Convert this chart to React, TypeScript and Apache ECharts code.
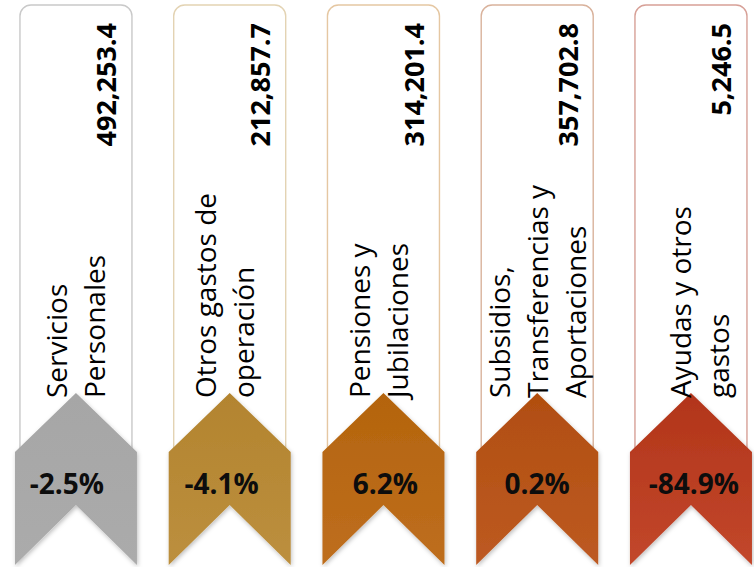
import React, { useEffect, useRef } from "react";
import * as echarts from "echarts";

const categories = [
  "Servicios\nPersonales",
  "Otros gastos de\noperación",
  "Pensiones y\nJubilaciones",
  "Subsidios,\nTransferencias y\nAportaciones",
  "Ayudas y otros\ngastos",
];
const amounts = [492253.4, 212857.7, 314201.4, 357702.8, 5246.5];
const changes = [-2.5, -4.1, 6.2, 0.2, -84.9];

const chevronTop = ["#A6A6A6", "#B3842F", "#B4640D", "#B14E10", "#B2351A"];
const chevronBottom = ["#ABABAB", "#BC8F3E", "#BE6E1E", "#BD5A22", "#C2472B"];
const panelBorders = ["#C9C9C9", "#E3D3B3", "#E5C7A2", "#D9B29C", "#D7A097"];
const labelShift = [-1, -6, -5, 0, 8];
const pctShift = [-9, -8, 2, 0, 3];

const FONT = '"Open Sans", "Noto Sans", sans-serif';

export default function App() {
  const ref = useRef<HTMLDivElement>(null);

  useEffect(() => {
    if (!ref.current) return;
    const chart = echarts.init(ref.current, undefined, { renderer: "svg" });

    const data = categories.map((c, i) => [i, amounts[i], changes[i]]);

    const renderItem = (params: any, api: any) => {
      const i = api.value(0);
      const amount = api.value(1);
      const change = api.value(2);
      const cx = api.coord([i, 0])[0];
      const Y = (v: number) => api.coord([i, v])[1];
      const halfPanel = 56;
      const halfChev = 61;
      const amountText = Number(amount).toLocaleString("en-US", {
        minimumFractionDigits: 1,
        maximumFractionDigits: 1,
      });
      const changeText = Number(change).toFixed(1) + "%";
      return {
        type: "group",
        children: [
          {
            type: "rect",
            shape: {
              x: cx - halfPanel,
              y: Y(5),
              width: halfPanel * 2,
              height: Y(470) - Y(5),
              r: [11, 11, 0, 0],
            },
            style: { fill: "#ffffff", stroke: panelBorders[i], lineWidth: 1.4 },
          },
          {
            type: "polygon",
            shape: {
              points: [
                [cx - halfChev, Y(452)],
                [cx, Y(393)],
                [cx + halfChev, Y(452)],
                [cx + halfChev, Y(565)],
                [cx, Y(505)],
                [cx - halfChev, Y(565)],
              ],
            },
            style: {
              fill: new echarts.graphic.LinearGradient(0, 0, 0, 1, [
                { offset: 0, color: chevronTop[i] },
                { offset: 1, color: chevronBottom[i] },
              ]),
              shadowBlur: 4,
              shadowColor: "rgba(0,0,0,0.25)",
              shadowOffsetX: 1,
              shadowOffsetY: 2,
            },
          },
          {
            type: "text",
            x: cx + 30,
            y: Y(23),
            rotation: Math.PI / 2,
            style: {
              text: amountText,
              font: `bold 27px ${FONT}`,
              fill: "#000000",
              align: "right",
              verticalAlign: "middle",
            },
          },
          {
            type: "text",
            x: cx + labelShift[i],
            y: Y(398),
            rotation: Math.PI / 2,
            style: {
              text: categories[i],
              font: `28px ${FONT}`,
              lineHeight: 38,
              fill: "#000000",
              align: "left",
              verticalAlign: "middle",
            },
          },
          {
            type: "text",
            x: cx + pctShift[i],
            y: Y(483),
            style: {
              text: changeText,
              font: `bold 28px ${FONT}`,
              fill: "#0d0d0d",
              align: "center",
              verticalAlign: "middle",
            },
          },
        ],
      };
    };

    chart.setOption({
      animation: false,
      grid: { left: 0, right: 0, top: 0, bottom: 0 },
      xAxis: { type: "value", min: -0.494, max: 4.41, show: false },
      yAxis: { type: "value", min: 0, max: 567, inverse: true, show: false },
      series: [
        {
          type: "custom",
          renderItem,
          data,
          clip: false,
        },
      ],
    });

    return () => chart.dispose();
  }, []);

  return (
    <div
      ref={ref}
      style={{ position: "fixed", left: 0, top: 0, width: 754, height: 567, background: "#ffffff" }}
    />
  );
}
